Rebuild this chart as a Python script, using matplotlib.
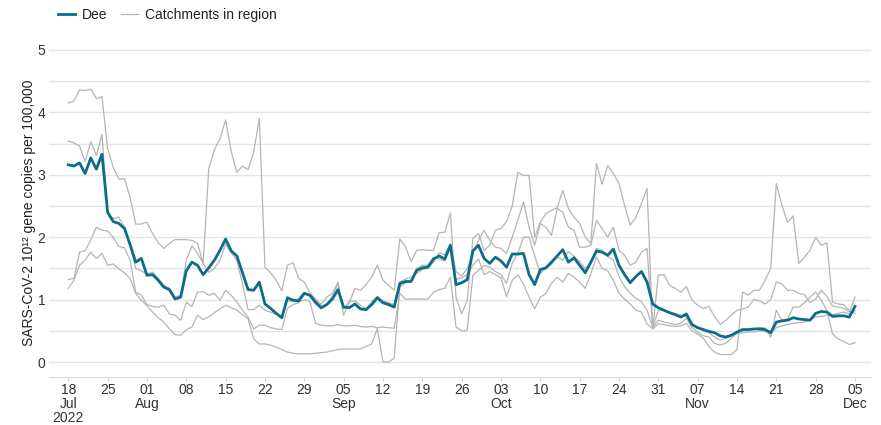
import numpy as np
import pandas as pd
import matplotlib
matplotlib.use("Agg")
import matplotlib.pyplot as plt
import matplotlib.dates as mdates
from matplotlib.lines import Line2D

plt.rcParams['font.family'] = ['Liberation Sans', 'DejaVu Sans']

# daily values from 18 Jul 2022 to 05 Dec 2022
start_date = "2022-07-18"

dee = [3.16, 3.14, 3.19, 3.02, 3.27, 3.09, 3.33, 2.40, 2.25, 2.22,
       2.14, 1.88, 1.60, 1.66, 1.39, 1.40, 1.31, 1.20, 1.16, 1.01,
       1.04, 1.46, 1.60, 1.55, 1.40, 1.51, 1.63, 1.79, 1.97, 1.78,
       1.70, 1.43, 1.16, 1.15, 1.28, 0.93, 0.86, 0.78, 0.71, 1.03,
       0.99, 0.98, 1.10, 1.07, 0.96, 0.87, 0.92, 1.01, 1.16, 0.88,
       0.87, 0.93, 0.85, 0.84, 0.92, 1.03, 0.95, 0.92, 0.88, 1.26,
       1.29, 1.29, 1.47, 1.51, 1.52, 1.65, 1.70, 1.65, 1.87, 1.24,
       1.27, 1.32, 1.78, 1.87, 1.66, 1.58, 1.68, 1.62, 1.52, 1.73,
       1.73, 1.74, 1.40, 1.24, 1.48, 1.51, 1.60, 1.70, 1.80, 1.60,
       1.67, 1.55, 1.43, 1.60, 1.78, 1.76, 1.71, 1.81, 1.55, 1.40,
       1.27, 1.37, 1.45, 1.28, 0.93, 0.87, 0.83, 0.79, 0.76, 0.72,
       0.77, 0.60, 0.55, 0.52, 0.49, 0.47, 0.42, 0.40, 0.43, 0.48,
       0.52, 0.52, 0.53, 0.53, 0.52, 0.47, 0.64, 0.66, 0.67, 0.71,
       0.69, 0.68, 0.67, 0.78, 0.81, 0.80, 0.73, 0.74, 0.74, 0.72, 0.89]

catch_a = [4.15, 4.18, 4.36, 4.35, 4.37, 4.22, 4.25, 3.42, 3.12, 2.93,
           2.94, 2.64, 2.21, 2.21, 2.24, 2.06, 1.91, 1.82, 1.90, 1.96,
           1.96, 1.96, 1.95, 1.90, 1.58, 3.10, 3.40, 3.58, 3.88, 3.37,
           3.04, 3.14, 3.08, 3.37, 3.90, 1.52, 1.43, 1.31, 1.14, 1.55,
           1.59, 1.34, 1.28, 1.11, 1.01, 0.92, 1.04, 1.10, 1.28, 0.75,
           0.95, 1.18, 1.15, 1.24, 1.36, 1.55, 1.31, 1.23, 1.15, 1.97,
           1.85, 1.61, 1.79, 1.80, 1.79, 1.79, 2.07, 2.08, 2.39, 1.04,
           0.77, 0.99, 1.98, 2.06, 1.79, 1.87, 2.11, 2.14, 2.25, 2.50,
           3.04, 2.99, 2.99, 2.00, 2.24, 2.38, 2.43, 2.47, 2.75, 2.46,
           2.32, 2.22, 2.00, 1.90, 3.18, 2.85, 3.15, 3.02, 2.86, 2.51,
           2.19, 2.32, 2.54, 2.78, 0.53, 1.39, 1.40, 1.23, 1.18, 1.12,
           1.21, 0.99, 0.91, 0.86, 0.89, 0.73, 0.60, 0.67, 0.75, 0.83,
           0.85, 0.88, 1.00, 0.98, 0.93, 1.00, 1.28, 1.25, 1.15, 1.15,
           1.10, 1.08, 0.95, 1.01, 1.15, 1.05, 0.90, 0.88, 0.86, 0.80, 1.04]

catch_b = [3.54, 3.51, 3.46, 3.21, 3.53, 3.31, 3.65, 2.39, 2.30, 2.32,
           2.16, 1.87, 1.50, 1.46, 1.41, 1.44, 1.34, 1.23, 1.18, 1.04,
           1.07, 1.63, 1.86, 1.74, 1.58, 1.44, 1.50, 1.63, 1.89, 1.75,
           1.63, 1.25, 0.84, 0.84, 0.91, 0.83, 0.80, 0.76, 0.72, 0.98,
           0.97, 1.02, 1.12, 1.05, 0.93, 0.85, 0.92, 1.06, 1.25, 0.85,
           0.97, 0.98, 0.91, 0.85, 0.97, 1.05, 0.98, 0.95, 0.92, 1.28,
           1.33, 1.36, 1.42, 1.48, 1.50, 1.60, 1.75, 1.72, 1.90, 1.45,
           1.38, 1.50, 1.74, 1.95, 2.11, 1.95, 1.84, 1.82, 1.74, 2.00,
           2.27, 2.57, 2.16, 1.87, 2.22, 2.16, 2.03, 2.46, 2.40, 2.16,
           2.11, 1.84, 1.84, 1.87, 2.27, 2.14, 2.00, 2.16, 1.79, 1.71,
           1.55, 1.60, 1.76, 1.82, 0.55, 0.83, 0.83, 0.80, 0.78, 0.75,
           0.72, 0.60, 0.55, 0.50, 0.47, 0.40, 0.35, 0.38, 0.42, 0.47,
           0.50, 0.50, 0.52, 0.55, 0.55, 0.40, 0.83, 0.67, 0.69, 0.88,
           0.88, 0.95, 1.04, 1.12, 0.99, 0.83, 0.45, 0.37, 0.33, 0.28, 0.31]

catch_c = [1.32, 1.34, 1.76, 1.78, 1.96, 2.16, 2.11, 2.10, 2.00, 1.85,
           1.83, 1.63, 1.12, 1.07, 0.92, 0.89, 0.88, 0.91, 0.77, 0.75,
           0.67, 0.96, 0.89, 1.12, 1.13, 1.07, 1.10, 0.99, 1.15, 1.07,
           0.96, 0.83, 0.72, 0.53, 0.59, 0.59, 0.55, 0.53, 0.52, 0.86,
           0.92, 0.95, 1.00, 0.97, 0.62, 0.59, 0.58, 0.58, 0.60, 0.58,
           0.58, 0.59, 0.57, 0.56, 0.57, 0.55, 0.56, 0.55, 0.54, 1.10,
           1.01, 1.01, 1.01, 1.01, 1.01, 1.12, 1.16, 1.18, 1.36, 0.56,
           0.50, 0.51, 1.39, 1.47, 1.55, 1.52, 1.45, 1.40, 1.26, 1.58,
           1.74, 2.00, 2.00, 1.70, 1.42, 1.50, 1.57, 1.69, 1.63, 1.77,
           1.69, 1.61, 1.50, 1.58, 1.82, 1.79, 1.69, 1.63, 1.37, 1.21,
           1.10, 1.02, 0.97, 0.83, 0.55, 0.67, 0.64, 0.62, 0.60, 0.62,
           0.70, 0.55, 0.48, 0.42, 0.40, 0.30, 0.27, 0.30, 0.38, 0.46,
           0.47, 0.48, 0.48, 0.50, 0.49, 0.45, 0.55, 0.58, 0.60, 0.62,
           0.63, 0.64, 0.68, 0.72, 0.73, 0.75, 0.76, 0.78, 0.80, 0.77, 0.82]

catch_d = [1.18, 1.31, 1.55, 1.63, 1.76, 1.66, 1.74, 1.55, 1.57, 1.49,
           1.43, 1.34, 1.10, 0.99, 0.90, 0.80, 0.71, 0.64, 0.53, 0.44,
           0.43, 0.52, 0.56, 0.75, 0.68, 0.72, 0.79, 0.85, 0.91, 0.87,
           0.83, 0.76, 0.69, 0.37, 0.29, 0.29, 0.27, 0.24, 0.20, 0.16,
           0.14, 0.13, 0.13, 0.13, 0.14, 0.15, 0.16, 0.18, 0.20, 0.21,
           0.21, 0.21, 0.21, 0.25, 0.29, 0.54, 0.00, 0.00, 0.06, 1.20,
           1.27, 1.30, 1.50, 1.55, 1.55, 1.68, 1.65, 1.62, 1.85, 1.32,
           1.35, 1.40, 1.55, 1.65, 1.40, 1.45, 1.40, 1.35, 1.05, 1.31,
           1.40, 1.25, 1.04, 0.85, 1.04, 1.10, 1.26, 1.36, 1.28, 1.42,
           1.36, 1.28, 1.18, 1.42, 1.68, 1.50, 1.46, 1.31, 1.10, 1.01,
           0.93, 0.83, 0.80, 0.61, 0.53, 0.61, 0.60, 0.58, 0.57, 0.58,
           0.62, 0.50, 0.45, 0.38, 0.25, 0.16, 0.12, 0.12, 0.12, 0.20,
           1.12, 1.07, 1.15, 1.15, 1.31, 1.50, 2.86, 2.51, 2.24, 2.34,
           1.58, 1.68, 1.79, 2.00, 1.87, 1.91, 0.96, 0.93, 0.92, 0.82, 0.78]

catchments = [catch_a, catch_b, catch_c, catch_d]

dates = pd.date_range(start_date, periods=len(dee), freq="D")

fig = plt.figure(figsize=(8.81, 4.25), dpi=100)
ax = fig.add_axes([49 / 881, 1 - 377 / 425, (871 - 49) / 881, (377 - 48.7) / 425])

grey = "#b5b5b5"
teal = "#0b6d8c"
for s in catchments:
    ax.plot(dates, s, color=grey, lw=0.9, zorder=2)
ax.plot(dates, dee, color=teal, lw=2.0, zorder=3)

# y axis
ax.set_ylim(-0.24, 5.02)
yt = np.arange(0, 5.01, 0.5)
ax.set_yticks(yt)
ax.set_yticklabels([str(int(v)) if v == int(v) else "" for v in yt])
ax.grid(axis="y", color="#e4e4e4", lw=1.0, zorder=0)
ax.tick_params(axis="y", length=0, pad=2.5, labelsize=10, labelcolor="#333333")
ax.set_ylabel("SARS-CoV-2 10\u00b9\u00b2 gene copies per 100,000",
              fontsize=10, color="#222222", labelpad=1.5)

# x axis
t0 = dates[0]
ax.set_xlim(t0 - pd.Timedelta(days=3.43), t0 + pd.Timedelta(days=142.85))
ticks = pd.date_range(start_date, "2022-12-05", freq="7D")
labels = []
prev_month = None
for i, t in enumerate(ticks):
    lab = t.strftime("%d")
    if t.month != prev_month:
        lab += "\n" + t.strftime("%b")
        prev_month = t.month
    if i == 0:
        lab += "\n" + t.strftime("%Y")
    labels.append(lab)
ax.set_xticks(ticks)
ax.set_xticklabels(labels, linespacing=0.98)
ax.tick_params(axis="x", length=3, width=0.8, color="#d0d0d0", pad=1.5,
               labelsize=10, labelcolor="#333333")

for side in ["top", "right", "left"]:
    ax.spines[side].set_visible(False)
ax.spines["bottom"].set_color("#dcdcdc")
ax.spines["bottom"].set_linewidth(0.8)

handles = [Line2D([], [], color=teal, lw=2.0),
           Line2D([], [], color=grey, lw=0.9)]
fig.legend(handles, ["Dee", "Catchments in region"], loc="upper left",
           bbox_to_anchor=(58 / 881, 1 - 8 / 425), ncol=2, frameon=False,
           fontsize=10, handlelength=1.2, handletextpad=0.5,
           columnspacing=1.0, borderpad=0, borderaxespad=0,
           labelcolor="#222222")

fig.savefig("out.png", dpi=100)
